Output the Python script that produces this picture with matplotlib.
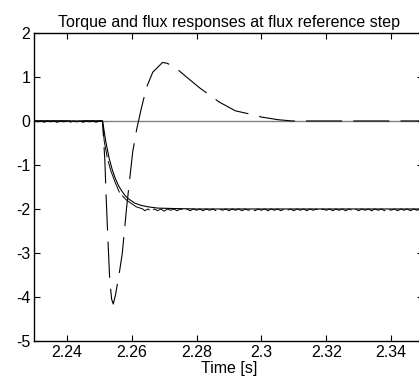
import numpy as np
import matplotlib
matplotlib.use("Agg")
import matplotlib.pyplot as plt
from matplotlib.ticker import FormatStrFormatter

plt.rcParams['font.family'] = ['Liberation Sans', 'DejaVu Sans']
plt.rcParams['axes.unicode_minus'] = False
plt.rcParams['lines.scale_dashes'] = False

# flux reference (smooth step response)
ref_t = [2.23, 2.251, 2.252, 2.253, 2.254, 2.255, 2.256, 2.257, 2.258, 2.259,
         2.261, 2.263, 2.265, 2.268, 2.273, 2.28, 2.35]
ref_v = [0.0, 0.0, -0.47, -0.84, -1.11, -1.32, -1.48, -1.60, -1.70, -1.77,
         -1.87, -1.92, -1.95, -1.98, -1.99, -2.0, -2.0]

# electromagnetic torque
trq_t = [2.23, 2.251, 2.2511, 2.2517, 2.2522, 2.2526, 2.2532, 2.2538, 2.2543, 2.2550,
         2.2563, 2.2571, 2.2584, 2.2603, 2.2615, 2.2630, 2.2646, 2.2665, 2.2695, 2.2710,
         2.2740, 2.2772, 2.281, 2.287, 2.292, 2.2963, 2.300, 2.305, 2.3095, 2.35]
trq_v = [0.0, 0.0, -0.14, -0.89, -1.9, -2.6, -3.6, -4.05, -4.16, -3.95,
         -3.39, -3.0, -1.98, -0.7, -0.2, 0.3, 0.77, 1.11, 1.33, 1.31,
         1.18, 0.98, 0.75, 0.43, 0.23, 0.16, 0.09, 0.03, 0.0, 0.0]

# measured flux (with small ripple)
flux_t = [2.230, 2.231, 2.232, 2.233, 2.234, 2.235, 2.236, 2.237, 2.238, 2.239, 2.240,
          2.241, 2.242, 2.243, 2.244, 2.245, 2.246, 2.247, 2.248, 2.249, 2.250, 2.251,
          2.2515, 2.2525, 2.2535, 2.2548, 2.2563, 2.2584, 2.2614, 2.2634,
          2.264, 2.265, 2.266, 2.267, 2.268, 2.269, 2.270, 2.271, 2.272, 2.273, 2.274,
          2.275, 2.276, 2.277, 2.278, 2.279, 2.280, 2.281, 2.282, 2.283, 2.284, 2.285,
          2.286, 2.287, 2.288, 2.289, 2.290, 2.291, 2.292, 2.293, 2.294, 2.295, 2.296,
          2.297, 2.298, 2.299, 2.300, 2.301, 2.302, 2.303, 2.304, 2.305, 2.306, 2.307,
          2.308, 2.309, 2.310, 2.311, 2.312, 2.313, 2.314, 2.315, 2.316, 2.317, 2.318,
          2.319, 2.320, 2.321, 2.322, 2.323, 2.324, 2.325, 2.326, 2.327, 2.328, 2.329,
          2.330, 2.331, 2.332, 2.333, 2.334, 2.335, 2.336, 2.337, 2.338, 2.339, 2.340,
          2.341, 2.342, 2.343, 2.344, 2.345, 2.346, 2.347, 2.348, 2.349, 2.350]
flux_v = [0.0, -0.02, 0.0, -0.03, 0.0, -0.02, 0.0, -0.03, 0.0, -0.02, 0.0,
          -0.03, 0.0, -0.02, 0.0, -0.03, 0.0, -0.02, 0.0, -0.03, 0.0, 0.0,
          -0.45, -0.85, -1.12, -1.38, -1.64, -1.8, -1.95, -2.0,
          -2.04, -2.0, -2.05, -2.0, -2.04, -2.0, -2.05, -2.0, -2.03, -2.0, -2.04,
          -2.0, -2.03, -2.0, -2.04, -2.0, -2.03, -2.0, -2.04, -2.0, -2.03, -2.0,
          -2.04, -2.0, -2.03, -2.0, -2.04, -2.0, -2.03, -2.0, -2.04, -2.0, -2.03,
          -2.0, -2.04, -2.0, -2.03, -2.0, -2.04, -2.0, -2.03, -2.0, -2.04, -2.0,
          -2.03, -2.0, -2.04, -2.0, -2.03, -2.0, -2.04, -2.0, -2.03, -2.0, -2.04,
          -2.0, -2.03, -2.0, -2.04, -2.0, -2.03, -2.0, -2.04, -2.0, -2.03, -2.0,
          -2.04, -2.0, -2.03, -2.0, -2.04, -2.0, -2.03, -2.0, -2.04, -2.0, -2.03,
          -2.0, -2.04, -2.0, -2.03, -2.0, -2.04, -2.0, -2.03, -2.0, -2.0]

xticks = [2.24, 2.26, 2.28, 2.30, 2.32, 2.34]
yticks = [2, 1, 0, -1, -2, -3, -4, -5]

fig = plt.figure(figsize=(4.19, 3.79), dpi=100)
ax = fig.add_axes([0.0823, 0.1003, 0.9284, 0.8127])

ax.axhline(0, color='#808080', lw=1.0, zorder=1)
ax.plot(ref_t, ref_v, color='black', lw=0.8, zorder=3)
ax.plot(flux_t, flux_v, color='black', lw=0.7, dashes=(24, 3), zorder=3)
ax.plot(trq_t, trq_v, color='black', lw=0.8, dashes=(26, 8), zorder=3)

ax.set_xlim(2.23, 2.35)
ax.set_ylim(-5, 2)
ax.set_xticks(xticks)
ax.set_yticks(yticks)
ax.xaxis.set_major_formatter(FormatStrFormatter('%g'))
ax.tick_params(direction='in', top=True, right=True, length=4, labelsize=11.5, pad=3)
for s in ax.spines.values():
    s.set_linewidth(1.0)

ax.set_title('Torque and flux responses at flux reference step', fontsize=11.5, pad=4)
ax.set_xlabel('Time [s]', fontsize=11.5, labelpad=0.5)

fig.savefig('out.png', dpi=100)
